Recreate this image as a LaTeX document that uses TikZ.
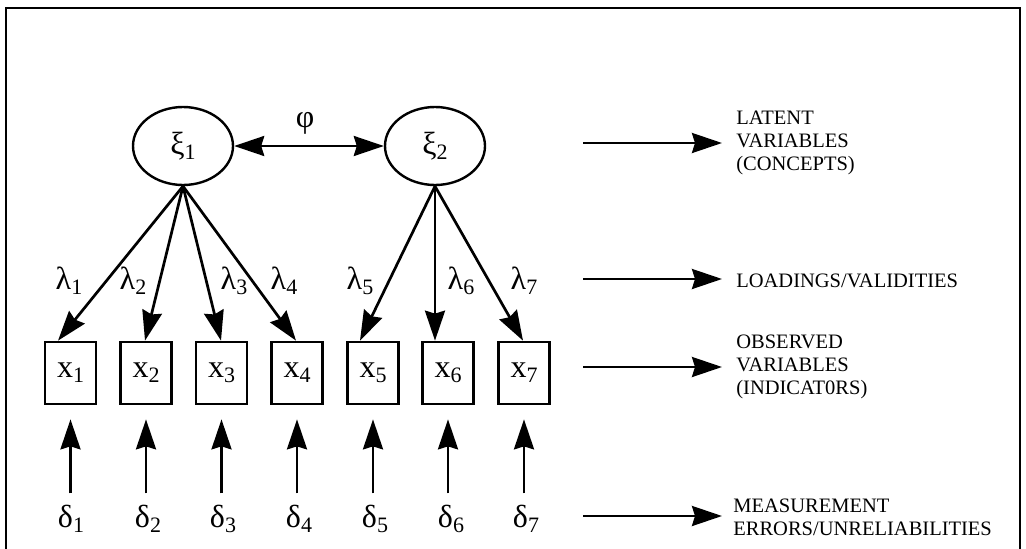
\documentclass[tikz,border=0pt]{standalone}
\usepackage{fontspec}
\setmainfont{Liberation Serif}
\usetikzlibrary{arrows.meta,shapes.geometric}
\newcommand\symsub[2]{{\fontsize{32}{32}\selectfont #1}\raisebox{-5pt}{\fontsize{22}{22}\selectfont #2}}
\begin{document}
\begin{tikzpicture}[x=1pt,y=-1pt,
  line width=2.7pt,
  arr/.style={-{Stealth[length=30pt,width=20pt,inset=3pt]}},
  darr/.style={{Stealth[length=30pt,width=20pt,inset=3pt]}-{Stealth[length=30pt,width=20pt,inset=3pt]}},
  latent/.style={draw, ellipse, minimum width=100pt, minimum height=78pt, inner sep=0pt, line width=2.4pt},
  obs/.style={draw, rectangle, minimum width=51pt, minimum height=62pt, inner sep=0pt, line width=2.7pt},
  sym/.style={inner sep=0pt},
  lbl/.style={anchor=west, inner sep=0pt, align=left, font=\fontsize{20.5}{23}\selectfont}]
\useasboundingbox (0,0) rectangle (1026,549);
% frame
\draw[line width=2.4pt] (6,549) -- (6,8) -- (1020,8) -- (1020,549);
% latent variables
\node[latent] (e1) at (183,146) {\symsub{ξ}{1}};
\node[latent] (e2) at (435,146) {\symsub{ξ}{2}};
\draw[darr] (e1.east) -- (e2.west);
\node[sym] (phi) at (305,123) {\fontsize{32}{32}\selectfont φ};
% observed
\foreach \i/\x in {1/70.5,2/146,3/221.5,4/297,5/373,6/448,7/524}{
  \node[obs] (x\i) at (\x,373) {\symsub{x}{\i}};
}
% loadings
\draw[arr] (e1.south) -- ([xshift=-12.5pt]x1.north);
\draw[arr] (e1.south) -- ([xshift=-1pt]x2.north);
\draw[arr] (e1.south) -- ([xshift=-0.5pt]x3.north);
\draw[arr] (e1.south) -- ([xshift=-1pt]x4.north);
\draw[arr] (e2.south) -- ([xshift=-13pt]x5.north);
\draw[arr] (e2.south) -- ([xshift=-13pt]x6.north);
\draw[arr] (e2.south) -- ([xshift=-1pt]x7.north);
\foreach \i/\x in {1/69,2/133,3/234,4/284,5/360,6/461,7/524}{
  \node[sym] (l\i) at (\x,281) {\symsub{λ}{\i}};
}
% errors
\foreach \i/\x in {1/71,2/148,3/223,4/299,5/375,6/451,7/526}{
  \node[sym] (d\i) at (\x,519) {\symsub{δ}{\i}};
}
\foreach \i in {1,...,7}{
  \coordinate (b\i) at ([yshift=-88pt]x\i.south);
  \draw[arr] (b\i) -- ([yshift=-14pt]x\i.south);
}
% right-hand legend
\node[lbl] (t1) at (735,143) {LATENT\\VARIABLES\\(CONCEPTS)};
\node[lbl] (t2) at (735,281) {LOADINGS/VALIDITIES};
\node[lbl] (t3) at (735,367) {OBSERVED\\VARIABLES\\(INDICAT0RS)};
\node[lbl] (t4) at (732,517) {MEASUREMENT\\ERRORS/UNRELIABILITIES};
\coordinate (s1) at (583,143);
\coordinate (s2) at (583,279);
\coordinate (s3) at (583,367);
\coordinate (s4) at (583,516);
\draw[arr] (s1) -- ([xshift=-13pt]t1.west);
\draw[arr] (s2) -- ([xshift=-13pt,yshift=2pt]t2.west);
\draw[arr] (s3) -- ([xshift=-13pt]t3.west);
\draw[arr] (s4) -- ([xshift=-10pt,yshift=1pt]t4.west);
\end{tikzpicture}
\end{document}
